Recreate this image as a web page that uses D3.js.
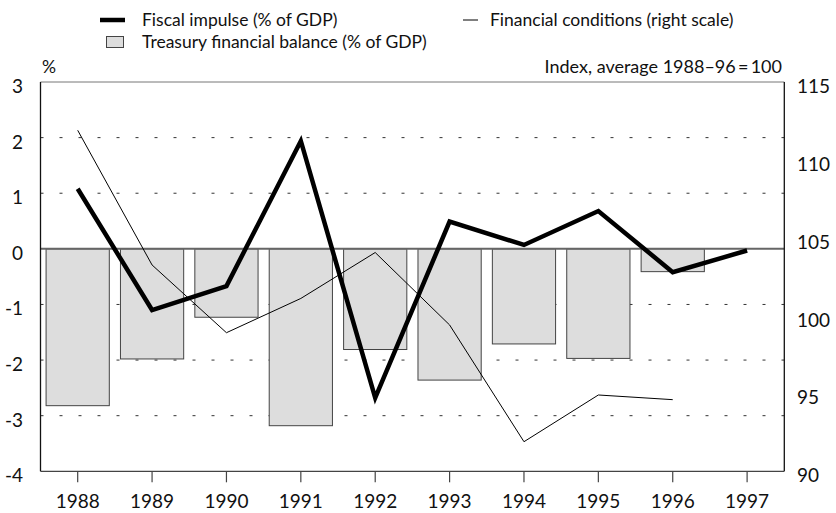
<!DOCTYPE html>
<html>
<head>
<meta charset="utf-8">
<script src="https://cdn.jsdelivr.net/npm/d3@7"></script>
<style>
  body { margin: 0; background: #fff; }
  svg { display: block; font-family: Lato, 'Open Sans', sans-serif; }
</style>
</head>
<body>
<svg id="chart"></svg>
<script>
const years = ['1988', '1989', '1990', '1991', '1992', '1993', '1994', '1995', '1996', '1997'];
// Fiscal impulse, % of GDP (left scale)
const fiscalImpulse = [1.08, -1.10, -0.67, 1.94, -2.68, 0.49, 0.07, 0.68, -0.42, -0.03];
// Treasury financial balance, % of GDP (left scale); none for 1997
const treasuryBalance = [-2.82, -1.98, -1.23, -3.18, -1.81, -2.36, -1.71, -1.97, -0.41, null];
// Financial conditions index (right scale); none for 1997
const financialConditions = [111.9, 103.25, 98.9, 101.1, 104.05, 99.4, 91.9, 94.9, 94.6, null];
const leftTicks = [-4, -3, -2, -1, 0, 1, 2, 3];
const rightTicks = [90, 95, 100, 105, 110, 115];

const width = 836;
const height = 513;
const plotLeft = 40.5, plotRight = 784.3, plotTop = 82, plotBottom = 471.3;

const svg = d3.select('#chart')
  .attr('width', width)
  .attr('height', height);

const x = d3.scaleBand()
  .domain(years)
  .range([plotLeft, plotRight])
  .paddingInner(0.15)
  .paddingOuter(0.075);

const yL = d3.scaleLinear().domain([-4, 3]).range([plotBottom, plotTop]);
const yR = d3.scaleLinear().domain([90, 115]).range([plotBottom, plotTop]);
const cx = d => x(d) + x.bandwidth() / 2;

// dotted grid lines
svg.append('g')
  .selectAll('line')
  .data(leftTicks.filter(t => t !== 0 && t !== 3 && t !== -4))
  .join('line')
  .attr('x1', plotLeft).attr('x2', plotRight)
  .attr('y1', d => yL(d)).attr('y2', d => yL(d))
  .attr('stroke', '#333')
  .attr('stroke-width', 1)
  .attr('stroke-dasharray', '3,16');

// bars
const barData = years.map((y, i) => ({ year: y, v: treasuryBalance[i] })).filter(d => d.v !== null);
svg.append('g')
  .selectAll('rect')
  .data(barData)
  .join('rect')
  .attr('x', d => x(d.year))
  .attr('width', x.bandwidth())
  .attr('y', d => yL(Math.max(0, d.v)))
  .attr('height', d => Math.abs(yL(d.v) - yL(0)))
  .attr('fill', '#dddddd')
  .attr('stroke', '#444')
  .attr('stroke-width', 1);

// zero line
svg.append('line')
  .attr('x1', plotLeft).attr('x2', plotRight)
  .attr('y1', yL(0)).attr('y2', yL(0))
  .attr('stroke', '#666')
  .attr('stroke-width', 2);

// frame
svg.append('line')
  .attr('x1', plotLeft).attr('x2', plotRight)
  .attr('y1', plotTop).attr('y2', plotTop)
  .attr('stroke', '#777').attr('stroke-width', 1);
svg.append('line')
  .attr('x1', plotLeft).attr('x2', plotRight)
  .attr('y1', plotBottom).attr('y2', plotBottom)
  .attr('stroke', '#444').attr('stroke-width', 1.2);
svg.append('line')
  .attr('x1', plotLeft).attr('x2', plotLeft)
  .attr('y1', plotTop).attr('y2', plotBottom)
  .attr('stroke', '#111').attr('stroke-width', 1.3);
svg.append('line')
  .attr('x1', plotRight).attr('x2', plotRight)
  .attr('y1', plotTop).attr('y2', plotBottom)
  .attr('stroke', '#111').attr('stroke-width', 1.3);

// financial conditions (thin line, right scale)
const fcData = years.map((y, i) => ({ year: y, v: financialConditions[i] })).filter(d => d.v !== null);
svg.append('path')
  .datum(fcData)
  .attr('fill', 'none')
  .attr('stroke', '#000')
  .attr('stroke-width', 1)
  .attr('d', d3.line().x(d => cx(d.year)).y(d => yR(d.v)));

// fiscal impulse (thick line, left scale)
const fiData = years.map((y, i) => ({ year: y, v: fiscalImpulse[i] }));
svg.append('path')
  .datum(fiData)
  .attr('fill', 'none')
  .attr('stroke', '#000')
  .attr('stroke-width', 4.5)
  .attr('stroke-linejoin', 'miter')
  .attr('stroke-miterlimit', 10)
  .attr('d', d3.line().x(d => cx(d.year)).y(d => yL(d.v)));

// x axis ticks and labels
const xAxis = svg.append('g');
xAxis.selectAll('line')
  .data(years)
  .join('line')
  .attr('x1', d => cx(d)).attr('x2', d => cx(d))
  .attr('y1', plotBottom).attr('y2', plotBottom + 11)
  .attr('stroke', '#444').attr('stroke-width', 1.2);
xAxis.selectAll('text')
  .data(years)
  .join('text')
  .attr('x', d => cx(d))
  .attr('y', 508)
  .attr('text-anchor', 'middle')
  .attr('font-size', 19)
  .attr('fill', '#111')
  .text(d => d);

// left axis labels
svg.append('g')
  .selectAll('text')
  .data(leftTicks)
  .join('text')
  .attr('x', 23)
  .attr('y', d => yL(d) + 11)
  .attr('text-anchor', 'end')
  .attr('font-size', 19)
  .attr('fill', '#111')
  .text(d => d);

// right axis labels
svg.append('g')
  .selectAll('text')
  .data(rightTicks)
  .join('text')
  .attr('x', 797)
  .attr('y', d => yR(d) + 11)
  .attr('text-anchor', 'start')
  .attr('font-size', 19)
  .attr('fill', '#111')
  .text(d => d);

// unit labels
svg.append('text')
  .attr('x', 42).attr('y', 73)
  .attr('font-size', 17.5).attr('fill', '#111')
  .text('%');
svg.append('text')
  .attr('x', 782).attr('y', 73)
  .attr('text-anchor', 'end')
  .attr('font-size', 18).attr('fill', '#111')
  .text('Index, average 1988–96\u2009=\u2009100');

// legend
const legend = svg.append('g').attr('font-size', 17.5).attr('fill', '#111');
legend.append('line')
  .attr('x1', 100).attr('x2', 125).attr('y1', 20).attr('y2', 20)
  .attr('stroke', '#000').attr('stroke-width', 4.5);
legend.append('text').attr('x', 142).attr('y', 26).text('Fiscal impulse (% of GDP)');
legend.append('rect')
  .attr('x', 106.5).attr('y', 36.5).attr('width', 17).attr('height', 11)
  .attr('fill', '#dddddd').attr('stroke', '#444');
legend.append('text').attr('x', 142).attr('y', 48).text('Treasury financial balance (% of GDP)');
legend.append('line')
  .attr('x1', 463).attr('x2', 478).attr('y1', 20).attr('y2', 20)
  .attr('stroke', '#000').attr('stroke-width', 1);
legend.append('text').attr('x', 490).attr('y', 26).text('Financial conditions (right scale)');
</script>
</body>
</html>
